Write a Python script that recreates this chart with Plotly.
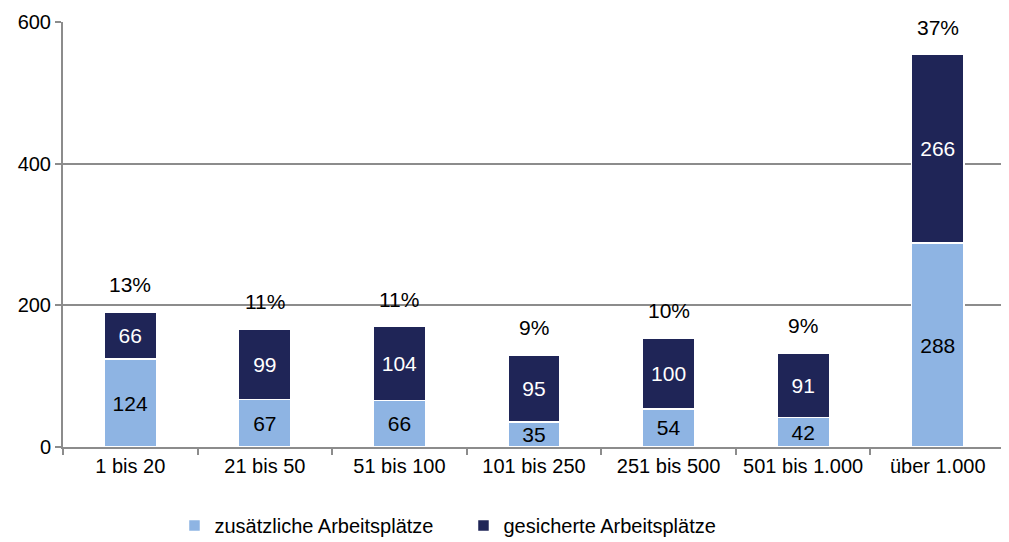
import plotly.graph_objects as go

categories = ["1 bis 20", "21 bis 50", "51 bis 100", "101 bis 250", "251 bis 500", "501 bis 1.000", "über 1.000"]
zusaetzlich = [124, 67, 66, 35, 54, 42, 288]
gesichert = [66, 99, 104, 95, 100, 91, 266]
anteil = ["13%", "11%", "11%", "9%", "10%", "9%", "37%"]
y_ticks = [0, 200, 400, 600]

totals = [a + b for a, b in zip(zusaetzlich, gesichert)]

font = "Liberation Sans, Arial, sans-serif"
fig = go.Figure()
fig.add_trace(go.Bar(
    x=categories, y=zusaetzlich, name="zusätzliche Arbeitsplätze",
    marker=dict(color="#8EB4E3", line=dict(color="white", width=1.5)),
    text=zusaetzlich, textposition="inside", insidetextanchor="middle",
    textangle=0, constraintext="none",
    textfont=dict(color="black", size=21, family=font),
))
fig.add_trace(go.Bar(
    x=categories, y=gesichert, name="gesicherte Arbeitsplätze",
    marker=dict(color="#1F2557", line=dict(color="white", width=1.5)),
    text=gesichert, textposition="inside", insidetextanchor="middle",
    textangle=0, constraintext="none",
    textfont=dict(color="white", size=21, family=font),
))
for c, t, p in zip(categories, totals, anteil):
    fig.add_annotation(x=c, y=t, text=p, showarrow=False, yanchor="bottom", yshift=14,
                       font=dict(color="black", size=21, family=font))

fig.update_layout(
    width=1009, height=542,
    barmode="stack", bargap=0.61,
    plot_bgcolor="white", paper_bgcolor="white",
    margin=dict(l=55, r=12, t=14, b=103, autoexpand=False),
    font=dict(family=font, size=20, color="black"),
    uniformtext=dict(mode=False),
    legend=dict(orientation="h", xref="container", x=0.165, xanchor="left",
                yref="container", y=0.045, yanchor="middle",
                font=dict(size=20, family=font), traceorder="normal",
                itemwidth=30, entrywidth=244, entrywidthmode="pixels"),
    xaxis=dict(showline=True, linecolor="#8c8c8c", linewidth=2,
               ticks="outside", tickson="boundaries", ticklen=6, tickcolor="#8c8c8c", tickwidth=2,
               tickfont=dict(size=20), showgrid=False),
    yaxis=dict(range=[0, 600], tickvals=y_ticks, showline=True, linecolor="#8c8c8c", linewidth=2,
               ticks="outside", ticklen=6, tickcolor="#8c8c8c", tickwidth=2,
               showgrid=True, gridcolor="#8c8c8c", gridwidth=1.5, zeroline=False,
               tickfont=dict(size=20)),
)
fig.write_html("out.html")
